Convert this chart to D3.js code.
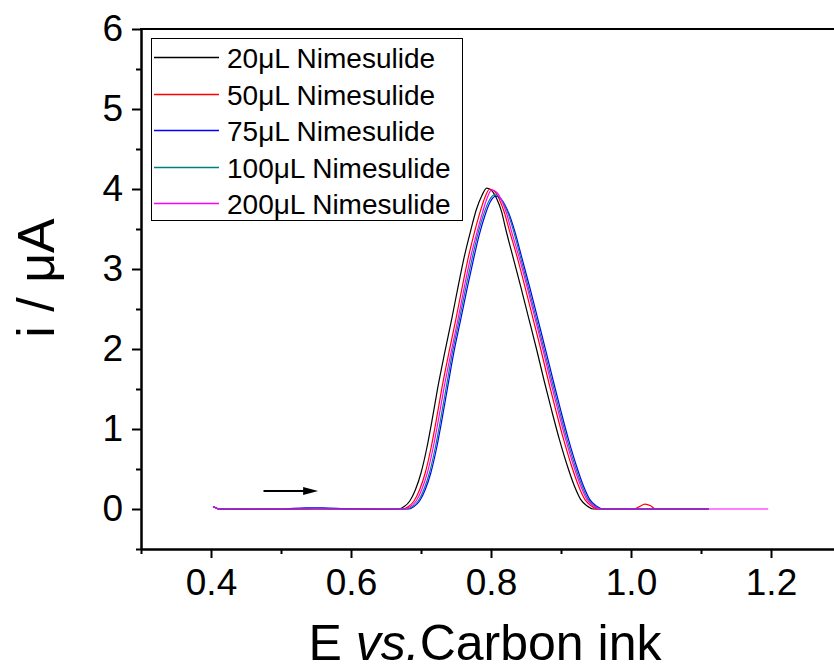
<!DOCTYPE html>
<html>
<head>
<meta charset="utf-8">
<script src="https://cdn.jsdelivr.net/npm/d3@7"></script>
<style>
  body { margin: 0; background: #fff; }
  svg { display: block; }
</style>
</head>
<body>
<div id="chart"></div>
<script>
/* DPV of nimesulide additions, E vs. carbon ink */

var seriesLabels = ['20\u03bcL Nimesulide', '50\u03bcL Nimesulide', '75\u03bcL Nimesulide',
  '100\u03bcL Nimesulide', '200\u03bcL Nimesulide'];
var seriesColors = ['#000000', '#ff0000', '#0000ff', '#008080', '#ff00ff'];

/* [E (V), i (uA)] */
var s20 = [[0.403,0.03],[0.412,0.0],[0.45,-0.005],[0.50,0.0],[0.55,0.005],[0.60,0.0],[0.65,-0.005],
  [0.668,0.0],[0.676,0.03],[0.684,0.10],[0.692,0.24],[0.700,0.45],[0.708,0.75],[0.716,1.12],
  [0.724,1.52],[0.734,1.96],[0.744,2.38],[0.753,2.78],[0.762,3.16],[0.771,3.48],[0.779,3.74],
  [0.787,3.92],[0.794,4.01],[0.801,3.98],[0.808,3.88],[0.815,3.72],[0.821,3.50],[0.832,3.13],
  [0.843,2.76],[0.854,2.38],[0.865,2.00],[0.876,1.60],[0.887,1.22],[0.898,0.86],[0.909,0.54],
  [0.919,0.29],[0.928,0.12],[0.937,0.04],[0.946,0.0],[1.00,0.0],[1.05,0.0],[1.111,0.0]];

var s50 = [[0.403,0.03],[0.412,0.0],[0.45,0.0],[0.50,-0.005],[0.55,0.0],[0.60,0.005],[0.65,0.0],
  [0.674,0.0],[0.682,0.03],[0.690,0.10],[0.698,0.24],[0.706,0.45],[0.714,0.75],[0.722,1.12],
  [0.730,1.52],[0.740,1.96],[0.750,2.38],[0.759,2.78],[0.768,3.16],[0.777,3.48],[0.785,3.73],
  [0.792,3.91],[0.798,4.00],[0.805,3.97],[0.812,3.87],[0.819,3.71],[0.826,3.49],[0.838,3.13],
  [0.849,2.76],[0.860,2.38],[0.871,2.00],[0.882,1.60],[0.893,1.22],[0.904,0.86],[0.915,0.54],
  [0.925,0.29],[0.934,0.12],[0.943,0.04],[0.952,0.0],[1.005,0.0],[1.012,0.03],[1.020,0.06],
  [1.028,0.04],[1.035,0.0],[1.07,0.0],[1.111,0.0]];

var s75 = [[0.403,0.03],[0.412,0.0],[0.45,0.0],[0.50,0.0],[0.535,0.015],[0.56,0.015],[0.60,0.0],
  [0.65,0.0],[0.682,0.0],[0.690,0.03],[0.698,0.10],[0.706,0.24],[0.714,0.45],[0.722,0.75],
  [0.730,1.12],[0.738,1.52],[0.747,1.96],[0.757,2.38],[0.766,2.76],[0.775,3.12],[0.783,3.42],
  [0.791,3.66],[0.799,3.84],[0.807,3.91],[0.814,3.88],[0.820,3.80],[0.827,3.66],[0.834,3.47],
  [0.845,3.11],[0.856,2.75],[0.867,2.37],[0.878,1.99],[0.889,1.60],[0.900,1.22],[0.911,0.86],
  [0.922,0.54],[0.932,0.29],[0.941,0.12],[0.950,0.04],[0.960,0.0],[1.00,0.0],[1.05,0.0],[1.111,0.0]];

var s100 = [[0.403,0.03],[0.412,0.0],[0.45,0.0],[0.50,0.0],[0.55,0.005],[0.60,0.0],[0.65,0.0],
  [0.680,0.0],[0.688,0.03],[0.696,0.10],[0.704,0.24],[0.712,0.45],[0.720,0.75],[0.728,1.12],
  [0.736,1.52],[0.745,1.96],[0.755,2.38],[0.764,2.77],[0.773,3.13],[0.781,3.43],[0.789,3.67],
  [0.797,3.85],[0.805,3.93],[0.812,3.90],[0.818,3.82],[0.825,3.68],[0.832,3.48],[0.843,3.12],
  [0.854,2.75],[0.865,2.37],[0.876,1.99],[0.887,1.60],[0.898,1.22],[0.909,0.86],[0.920,0.54],
  [0.930,0.29],[0.939,0.12],[0.948,0.04],[0.958,0.0],[1.00,0.0],[1.05,0.0],[1.111,0.0]];

var s200 = [[0.403,0.03],[0.412,0.0],[0.45,0.0],[0.50,0.0],[0.55,0.0],[0.60,0.0],[0.65,0.0],
  [0.677,0.0],[0.685,0.03],[0.693,0.10],[0.701,0.24],[0.709,0.45],[0.717,0.75],[0.725,1.12],
  [0.733,1.52],[0.743,1.96],[0.753,2.38],[0.762,2.78],[0.771,3.15],[0.780,3.46],[0.788,3.71],
  [0.795,3.90],[0.801,3.99],[0.808,3.96],[0.815,3.86],[0.822,3.70],[0.829,3.48],[0.841,3.12],
  [0.852,2.76],[0.863,2.38],[0.874,2.00],[0.885,1.60],[0.896,1.22],[0.907,0.86],[0.918,0.54],
  [0.928,0.29],[0.937,0.12],[0.946,0.04],[0.955,0.0],[1.00,0.0],[1.10,0.0],[1.196,0.0]];

var seriesData = [s20, s50, s75, s100, s200];

var xTicks = [0.4, 0.6, 0.8, 1.0, 1.2];
var xMinor = [0.3, 0.5, 0.7, 0.9, 1.1, 1.3];
var yTicks = [0, 1, 2, 3, 4, 5, 6];
var yMinor = [-0.5, 0.5, 1.5, 2.5, 3.5, 4.5, 5.5];

/* scan direction arrow */
var arrowE = [0.475, 0.553];
var arrowI = 0.225;

var W = 834, H = 672;
var FONT = '"Liberation Sans", Arial, Helvetica, sans-serif';

var svg = d3.select('#chart').append('svg')
  .attr('width', W).attr('height', H);

var x = d3.scaleLinear().domain([0.3, 1.3]).range([141, 841]);
var y = d3.scaleLinear().domain([-0.5, 6]).range([549, 29]);

/* clip to plot area */
svg.append('clipPath').attr('id', 'plotClip')
  .append('rect')
  .attr('x', x(0.3)).attr('y', y(6))
  .attr('width', x(1.3) - x(0.3)).attr('height', y(-0.5) - y(6));

/* curves */
var line = d3.line()
  .x(function (d) { return x(d[0]); })
  .y(function (d) { return y(d[1]); })
  .curve(d3.curveMonotoneX);

var curves = svg.append('g').attr('clip-path', 'url(#plotClip)');
seriesData.forEach(function (s, k) {
  curves.append('path')
    .datum(s)
    .attr('d', line)
    .attr('fill', 'none')
    .attr('stroke', seriesColors[k])
    .attr('stroke-width', 1.2);
});

/* arrow */
var ay = y(arrowI);
svg.append('line')
  .attr('x1', x(arrowE[0])).attr('x2', x(arrowE[1]) - 13)
  .attr('y1', ay).attr('y2', ay)
  .attr('stroke', '#000').attr('stroke-width', 2);
svg.append('path')
  .attr('d', 'M' + (x(arrowE[1]) - 15) + ',' + (ay - 4) +
    'L' + x(arrowE[1]) + ',' + ay +
    'L' + (x(arrowE[1]) - 15) + ',' + (ay + 4) + 'Z')
  .attr('fill', '#000');

/* axes */
function styleAxis(g, fs) {
  g.select('.domain').attr('stroke', '#000').attr('stroke-width', 2);
  g.selectAll('.tick line').attr('stroke', '#000').attr('stroke-width', 2);
  g.selectAll('.tick text')
    .attr('font-family', FONT).attr('font-size', fs).attr('fill', '#000');
}

var gx = svg.append('g').attr('transform', 'translate(0,' + y(-0.5) + ')')
  .call(d3.axisBottom(x).tickValues(xTicks).tickFormat(d3.format('.1f'))
    .tickSize(9).tickSizeOuter(0).tickPadding(11));
styleAxis(gx, 37);

var gxm = svg.append('g').attr('transform', 'translate(0,' + y(-0.5) + ')')
  .call(d3.axisBottom(x).tickValues(xMinor).tickFormat('').tickSize(5).tickSizeOuter(0));
styleAxis(gxm, 0);

var gy = svg.append('g').attr('transform', 'translate(' + x(0.3) + ',0)')
  .call(d3.axisLeft(y).tickValues(yTicks).tickFormat(d3.format('d'))
    .tickSize(9).tickSizeOuter(0).tickPadding(9));
styleAxis(gy, 37);

var gym = svg.append('g').attr('transform', 'translate(' + x(0.3) + ',0)')
  .call(d3.axisLeft(y).tickValues(yMinor).tickFormat('').tickSize(5).tickSizeOuter(0));
styleAxis(gym, 0);

/* top and right frame */
svg.append('line')
  .attr('x1', x(0.3) - 1).attr('x2', x(1.3))
  .attr('y1', y(6)).attr('y2', y(6))
  .attr('stroke', '#000').attr('stroke-width', 2);
svg.append('line')
  .attr('x1', x(1.3)).attr('x2', x(1.3))
  .attr('y1', y(6)).attr('y2', y(-0.5))
  .attr('stroke', '#000').attr('stroke-width', 2);

/* axis titles */
var xt = svg.append('text')
  .attr('x', 485).attr('y', 660)
  .attr('text-anchor', 'middle')
  .attr('font-family', FONT).attr('font-size', 50).attr('fill', '#000');
xt.append('tspan').text('E ');
xt.append('tspan').attr('font-style', 'italic').text('vs.');
xt.append('tspan').text('Carbon ink');

svg.append('text')
  .attr('transform', 'translate(54,278) rotate(-90)')
  .attr('text-anchor', 'middle')
  .attr('font-family', FONT).attr('font-size', 52).attr('fill', '#000')
  .text('i / \u03bcA');

/* legend */
var lg = svg.append('g');
lg.append('rect')
  .attr('x', 151.5).attr('y', 38.5).attr('width', 311).attr('height', 182)
  .attr('fill', '#fff').attr('stroke', '#000').attr('stroke-width', 1);
seriesLabels.forEach(function (lab, k) {
  var ly = Math.round(57 + k * 36.5) + 0.5;
  lg.append('line')
    .attr('x1', 154).attr('x2', 219).attr('y1', ly).attr('y2', ly)
    .attr('stroke', seriesColors[k]).attr('stroke-width', 1.3);
  lg.append('text')
    .attr('x', 227).attr('y', ly + 10)
    .attr('font-family', FONT).attr('font-size', 28).attr('fill', '#000')
    .text(lab);
});
</script>
</body>
</html>
